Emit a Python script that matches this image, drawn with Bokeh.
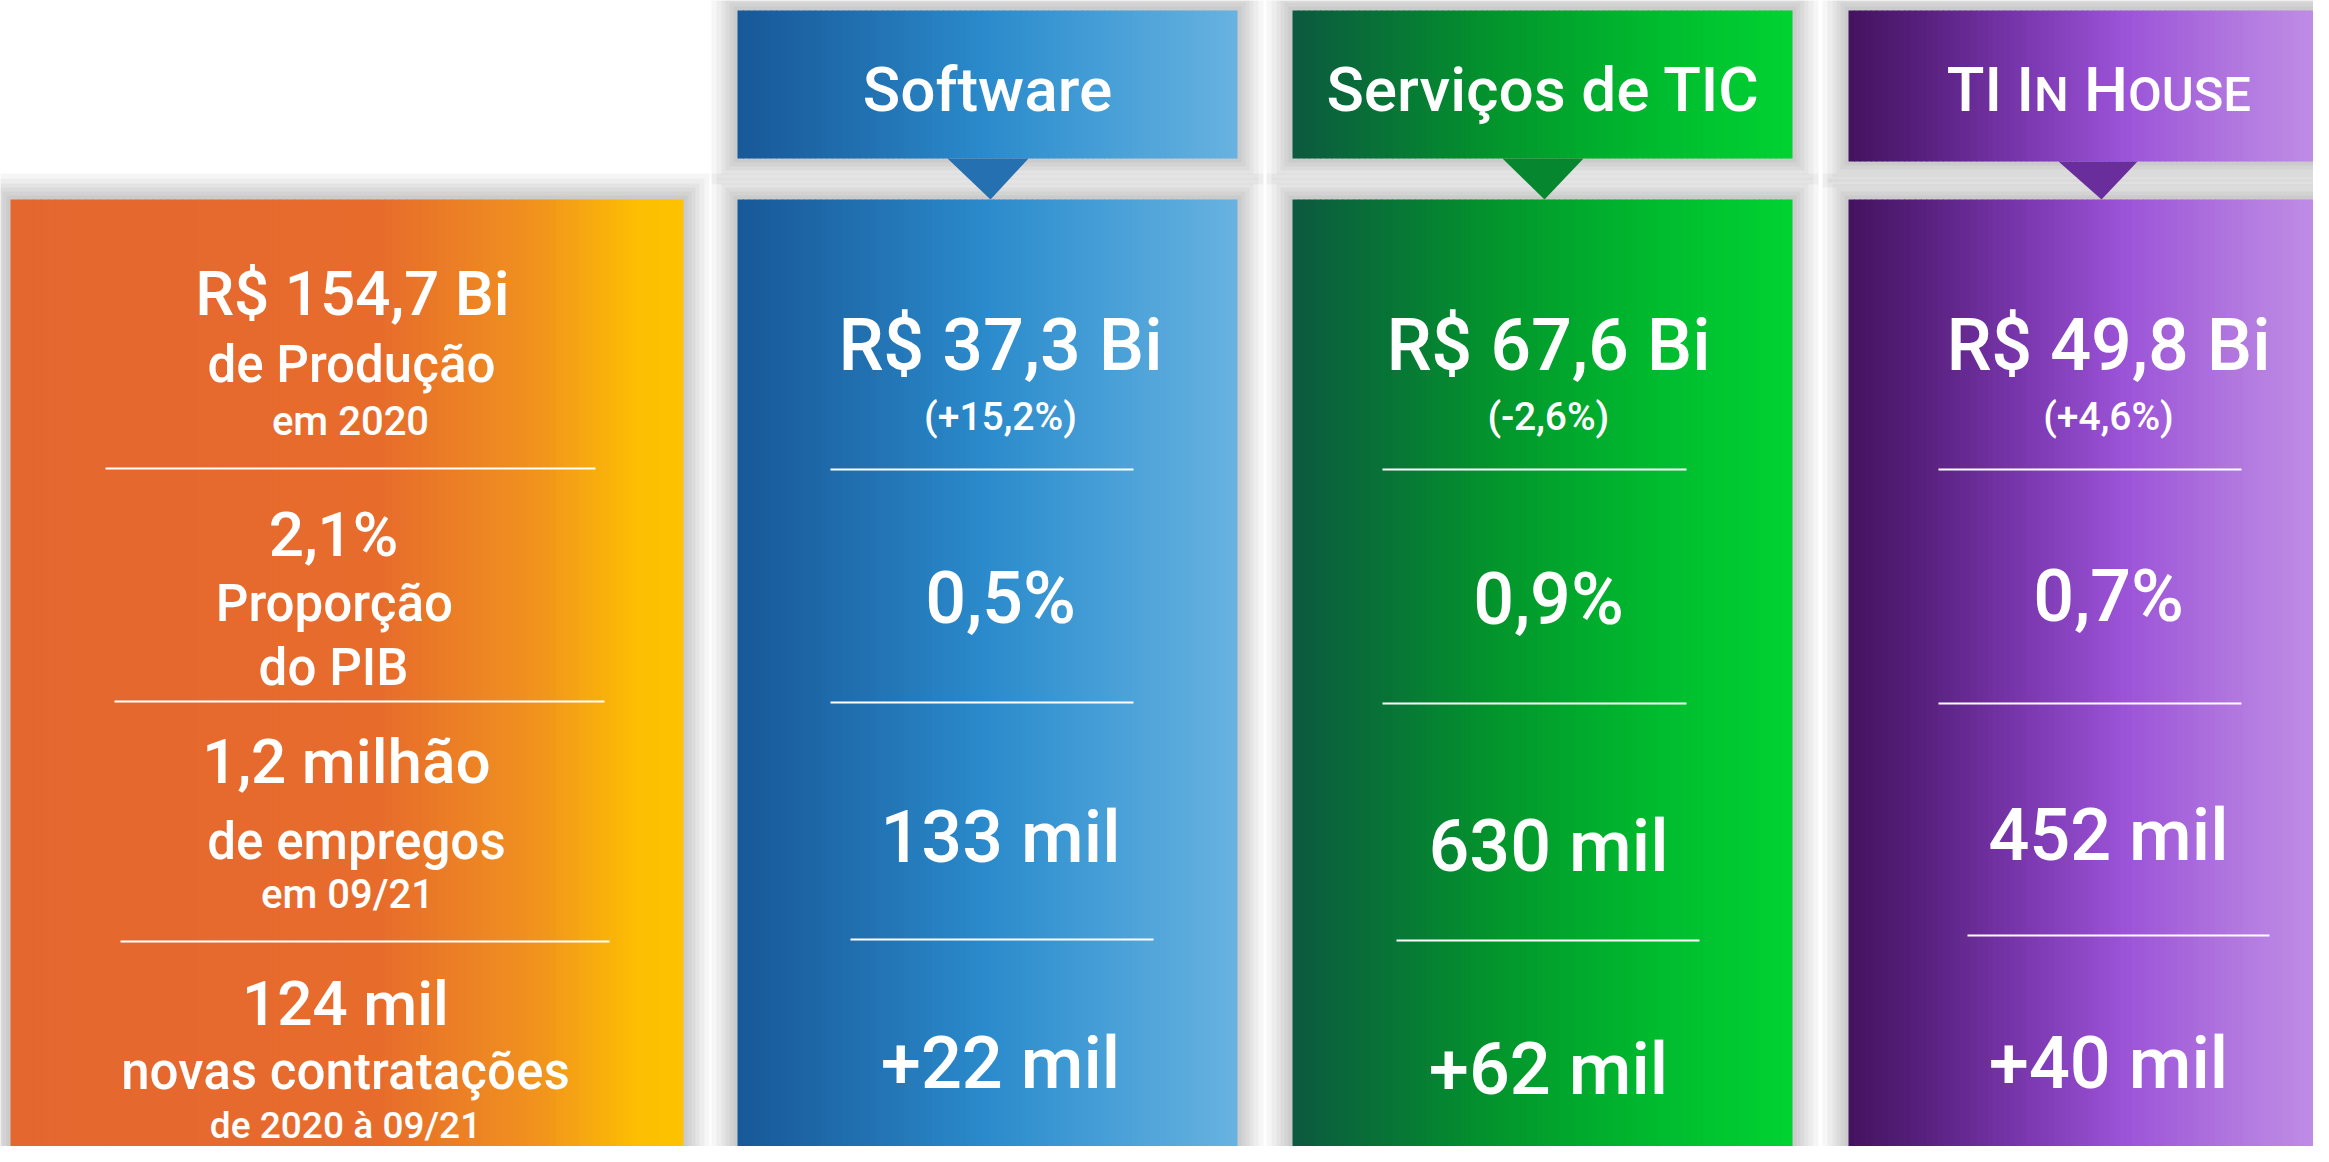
import numpy as np
from bokeh.plotting import figure
from bokeh.models import Range1d, ColumnDataSource
from bokeh.core.properties import value
from bokeh.embed import file_html
from bokeh.resources import INLINE

# ---------------- data ----------------
total_lines = ["R$ 154,7 Bi", "de Produção", "em 2020",
               "2,1%", "Proporção", "do PIB",
               "1,2 milhão", "de empregos", "em 09/21",
               "124 mil", "novas contratações", "de 2020 à 09/21"]
segments = ["Software", "Serviços de TIC", "TI In House"]
producao = ["R$ 37,3 Bi", "R$ 67,6 Bi", "R$ 49,8 Bi"]
variacao = ["(+15,2%)", "(-2,6%)", "(+4,6%)"]
pib = ["0,5%", "0,9%", "0,7%"]
empregos = ["133 mil", "630 mil", "452 mil"]
contratacoes = ["+22 mil", "+62 mil", "+40 mil"]

# ---------------- layout / style ----------------
FONT = "Roboto Medium"
W, H = 2313, 1146
p = figure(width=W, height=H, output_backend="svg", toolbar_location=None,
           x_axis_type=None, y_axis_type=None, min_border=0,
           x_range=Range1d(0, W), y_range=Range1d(H, 0))
p.outline_line_color = None
p.grid.visible = False
p.background_fill_color = "white"
p.border_fill_color = "white"

BASE_CORR = 0.35  # baseline correction (fraction of font size)

def ty(baseline, size):
    return baseline - BASE_CORR * size

def hex2rgb(h):
    h = h.lstrip("#")
    return np.array([int(h[i:i + 2], 16) for i in (0, 2, 4)], dtype=float)

def gradient_quads(x0, x1, y0, y1, stops, n=90):
    ts = np.array([s[0] for s in stops])
    cols = np.array([hex2rgb(s[1]) for s in stops])
    lefts, rights, cs = [], [], []
    for i in range(n):
        a = x0 + (x1 - x0) * i / n
        b = x0 + (x1 - x0) * (i + 1) / n
        t = (i + 0.5) / n
        rgb = [np.interp(t, ts, cols[:, k]) for k in range(3)]
        lefts.append(a)
        rights.append(min(b + 0.8, x1))
        cs.append("#%02x%02x%02x" % tuple(int(round(v)) for v in rgb))
    src = ColumnDataSource(dict(left=lefts, right=rights,
                                top=[y0] * n, bottom=[y1] * n, color=cs))
    p.quad(left="left", right="right", top="top", bottom="bottom",
           fill_color="color", line_color=None, source=src)

def shadow(x0, x1, y0, y1):
    for d in (26, 21, 16, 12, 8, 4):
        p.quad(left=[x0 - d], right=[x1 + d], top=[y0 - d], bottom=[y1 + d],
               fill_color="black", fill_alpha=0.035, line_color=None)

orange_stops = [(0, "#E4672F"), (0.55, "#E76C2C"), (0.78, "#F1921E"),
                (0.93, "#FDBE02"), (1, "#FEC200")]
blue_stops = [(0, "#175898"), (0.25, "#2170B0"), (0.5, "#2B8BCC"),
              (0.75, "#48A0D7"), (1, "#68B2E0")]
green_stops = [(0, "#0C593F"), (0.2, "#077536"), (0.4, "#03942C"),
               (0.7, "#00B82E"), (1, "#00D332")]
purple_stops = [(0, "#43125E"), (0.15, "#58207E"), (0.35, "#7A37AE"),
                (0.55, "#9B53D7"), (0.8, "#B47BE0"), (1, "#C496E8")]

PANEL_TOP, PANEL_BOTTOM = 199, 1175
orange_box = (10, 683)
seg_boxes = [(737, 1237), (1292, 1792), (1848, 2348)]
seg_header_bottom = [158, 158, 161]
seg_stops = [blue_stops, green_stops, purple_stops]
tri_base = [(947, 1028, 990), (1502, 1583, 1544), (2058, 2137, 2101)]
tri_color = ["#2570B0", "#06862F", "#6A2E9C"]

# shadows first
shadow(orange_box[0], orange_box[1], PANEL_TOP, PANEL_BOTTOM)
for (x0, x1), hb in zip(seg_boxes, seg_header_bottom):
    shadow(x0, x1, 10, hb)
    shadow(x0, x1, PANEL_TOP, PANEL_BOTTOM)

# boxes
gradient_quads(orange_box[0], orange_box[1], PANEL_TOP, PANEL_BOTTOM, orange_stops)
for (x0, x1), hb, st in zip(seg_boxes, seg_header_bottom, seg_stops):
    gradient_quads(x0, x1, 10, hb, st)
    gradient_quads(x0, x1, PANEL_TOP, PANEL_BOTTOM, st)

# triangles (pointers)
for (a, b, c), hb, col in zip(tri_base, seg_header_bottom, tri_color):
    p.patch(x=[a, b, c], y=[hb, hb, PANEL_TOP], fill_color=col, line_color=None)

# separator lines
orange_sep = [(105, 595, 468), (114, 604, 701), (120, 609, 941)]
seg_sep = [
    [(830, 1133, 469), (830, 1133, 702), (850, 1153, 939)],
    [(1382, 1686, 469), (1382, 1686, 703), (1396, 1699, 940)],
    [(1938, 2241, 469), (1938, 2241, 703), (1967, 2269, 935)],
]
allsep = orange_sep + [s for col in seg_sep for s in col]
p.segment(x0=[s[0] for s in allsep], x1=[s[1] for s in allsep],
          y0=[s[2] for s in allsep], y1=[s[2] for s in allsep],
          line_color="white", line_width=2)

# orange texts
orange_x = [352, 351, 350, 333, 334, 333, 346, 356, 347, 345, 345, 345]
orange_base = [315, 382, 435, 556, 621, 685, 783, 859, 908, 1025, 1089, 1138]
orange_px = [62, 51, 40, 62, 51, 51, 62, 51, 40, 62, 51, 37]
p.text(x="x", y="y", text="text", text_font_size="size",
       source=ColumnDataSource(dict(
           x=orange_x, y=[ty(b, s) for b, s in zip(orange_base, orange_px)],
           text=total_lines, size=["%dpx" % s for s in orange_px])),
       text_font=value(FONT), text_color="white", text_align="center",
       text_baseline="alphabetic")

# segment texts
seg_cx = [1000, 1548, 2108]
rows = [(producao, [370, 370, 370], 72),
        (variacao, [430, 430, 430], 39),
        (pib, [623, 624, 621], 72),
        (empregos, [862, 871, 860], 72),
        (contratacoes, [1088, 1094, 1088], 72)]
xs, ys, ts, ss = [], [], [], []
for vals, yy, sz in rows:
    for i in range(3):
        xs.append(seg_cx[i]); ys.append(ty(yy[i], sz)); ts.append(vals[i])
        ss.append("%dpx" % sz)
p.text(x="x", y="y", text="text", text_font_size="size",
       source=ColumnDataSource(dict(x=xs, y=ys, text=ts, size=ss)),
       text_font=value(FONT), text_color="white", text_align="center",
       text_baseline="alphabetic")

# header titles
HEAD_PX = 62
header_cx = [987, 1543]
p.text(x=header_cx, y=[ty(111, HEAD_PX)] * 2, text=segments[:2],
       text_font=value(FONT), text_font_size=value("%dpx" % HEAD_PX),
       text_color="white", text_align="center", text_baseline="alphabetic")

# "TI In House" in small caps
words = segments[2].split(" ")  # TI, In, House
big, small = HEAD_PX, 49
em = {"T": 0.60, "I": 0.28, " ": 0.245, "N": 0.71, "H": 0.71,
      "O": 0.69, "U": 0.645, "S": 0.60, "E": 0.56}
# (text, size, gap_before)
pieces = [(words[0], big, 0.0), (words[1][0], big, em[" "] * big),
          (words[1][1:].upper(), small, 0.0), (words[2][0], big, em[" "] * big),
          (words[2][1:].upper(), small, 0.0)]
total_w = sum(g + sum(em.get(c, 0.6) for c in t) * s for t, s, g in pieces)
x = 2098 - total_w / 2
px, pt, psz, py = [], [], [], []
for t, s, g in pieces:
    x += g
    px.append(x); pt.append(t); psz.append("%dpx" % s)
    py.append(111 - BASE_CORR * s)
    x += sum(em.get(c, 0.6) for c in t) * s
p.text(x="x", y="y", text="text", text_font_size="size",
       source=ColumnDataSource(dict(x=px, y=py, text=pt, size=psz)),
       text_font=value(FONT), text_color="white", text_align="left",
       text_baseline="alphabetic")

open("out.html", "w").write(file_html(p, INLINE))
